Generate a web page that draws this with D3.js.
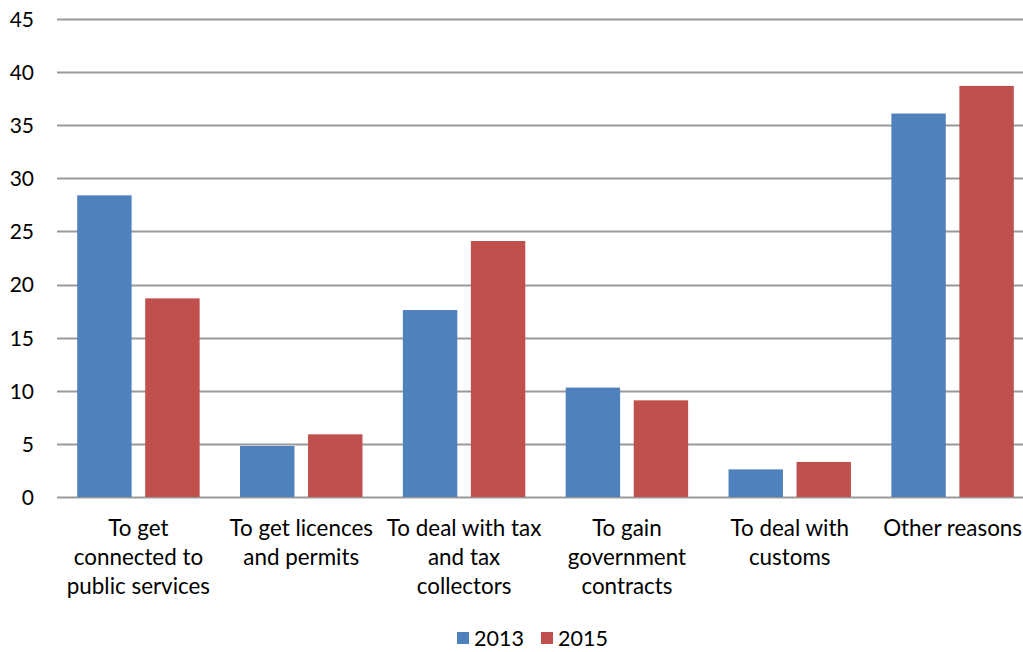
<!DOCTYPE html>
<html>
<head>
<meta charset="utf-8">
<script src="https://cdn.jsdelivr.net/npm/d3@7"></script>
<style>
  html, body { margin: 0; padding: 0; background: #fff; overflow: hidden; }
  svg { display: block; font-family: Lato, "Liberation Sans", sans-serif; }
</style>
</head>
<body>
<svg id="chart" width="1023" height="652"></svg>
<script>
// Reasons for bribery, share of responses (%)
const categories = [
  ["To get", "connected to", "public services"],
  ["To get licences", "and permits"],
  ["To deal with tax", "and tax", "collectors"],
  ["To gain", "government", "contracts"],
  ["To deal with", "customs"],
  ["Other reasons"]
];
const seriesNames = ["2013", "2015"];
const values2013 = [28.4, 4.8, 17.6, 10.3, 2.6, 36.1];
const values2015 = [18.7, 5.9, 24.1, 9.1, 3.3, 38.7];
const yTicks = [0, 5, 10, 15, 20, 25, 30, 35, 40, 45];
const colors = ["#4F81BD", "#C0504D"];

const svg = d3.select("#chart");
const W = 1023;
const plotLeft = 57, plotRight = 1034, plotTop = 19, plotBottom = 497;

const x = d3.scaleBand()
  .domain(d3.range(categories.length))
  .range([plotLeft, plotRight]);

const x1 = d3.scaleBand()
  .domain(seriesNames)
  .range([0, x.bandwidth()])
  .paddingInner(0.2)
  .paddingOuter(0.297);

const y = d3.scaleLinear()
  .domain([0, 45])
  .range([plotBottom, plotTop]);

// Gridlines
svg.append("g")
  .selectAll("line")
  .data(yTicks)
  .join("line")
  .attr("x1", plotLeft)
  .attr("x2", W)
  .attr("y1", d => Math.round(y(d)) + 0.5)
  .attr("y2", d => Math.round(y(d)) + 0.5)
  .attr("stroke", "#999")
  .attr("stroke-width", 2);

// Y axis labels
const yAxis = d3.axisLeft(y).tickValues(yTicks).tickSize(0).tickPadding(0);
const gy = svg.append("g")
  .attr("transform", "translate(34,0)")
  .call(yAxis);
gy.select(".domain").remove();
gy.selectAll("text")
  .attr("font-size", 21)
  .attr("fill", "#000")
  .attr("font-family", "Lato, sans-serif")
  .attr("dy", "0.35em");

// Bars
const seriesData = [values2013, values2015];
const groups = svg.append("g")
  .selectAll("g")
  .data(seriesData)
  .join("g")
  .attr("fill", (d, i) => colors[i]);

groups.selectAll("rect")
  .data((vals, si) => vals.map((v, ci) => ({ v, ci, s: seriesNames[si] })))
  .join("rect")
  .attr("x", d => x(d.ci) + x1(d.s))
  .attr("width", x1.bandwidth())
  .attr("y", d => y(d.v))
  .attr("height", d => plotBottom - y(d.v));

// Category labels
const labels = svg.append("g")
  .selectAll("text")
  .data(categories)
  .join("text")
  .attr("text-anchor", "middle")
  .attr("font-size", 22.4)
  .attr("fill", "#000")
  .attr("transform", (d, i) => `translate(${x(i) + x.bandwidth() / 2},528)`);

labels.selectAll("tspan")
  .data(d => d)
  .join("tspan")
  .attr("x", 0)
  .attr("y", (d, i) => i * 29)
  .attr("dy", "0.35em")
  .text(d => d);

// Legend
const legend = svg.append("g").attr("transform", "translate(457,638)");
const legendItems = legend.selectAll("g")
  .data(seriesNames)
  .join("g")
  .attr("transform", (d, i) => `translate(${i * 84},0)`);
legendItems.append("rect")
  .attr("x", 0).attr("y", -6)
  .attr("width", 12).attr("height", 12)
  .attr("fill", (d, i) => colors[i]);
legendItems.append("text")
  .attr("x", 17)
  .attr("dy", "0.35em")
  .attr("font-size", 21.5)
  .attr("fill", "#000")
  .text(d => d);
</script>
</body>
</html>
